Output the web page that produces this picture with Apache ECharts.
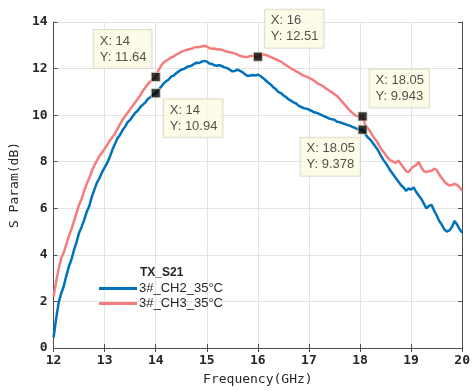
<!DOCTYPE html>
<html>
<head>
<meta charset="utf-8">
<style>
  html, body { margin: 0; padding: 0; background: #ffffff; }
  #chart { width: 473px; height: 391px; }
</style>
<script src="https://cdn.jsdelivr.net/npm/echarts@6/dist/echarts.min.js"></script>
</head>
<body>
<div id="chart"></div>
<script>
// Frequency sweep (GHz)
const freqGHz = [
  12.00, 12.05, 12.10, 12.15, 12.20, 12.25, 12.30, 12.35, 12.40, 12.45,
  12.50, 12.55, 12.60, 12.65, 12.70, 12.75, 12.80, 12.85, 12.90, 12.95,
  13.00, 13.05, 13.10, 13.15, 13.20, 13.25, 13.30, 13.35, 13.40, 13.45,
  13.50, 13.55, 13.60, 13.65, 13.70, 13.75, 13.80, 13.85, 13.90, 13.95,
  14.00, 14.05, 14.10, 14.15, 14.20, 14.25, 14.30, 14.35, 14.40, 14.45,
  14.50, 14.55, 14.60, 14.65, 14.70, 14.75, 14.80, 14.85, 14.90, 14.95,
  15.00, 15.05, 15.10, 15.15, 15.20, 15.25, 15.30, 15.35, 15.40, 15.45,
  15.50, 15.55, 15.60, 15.65, 15.70, 15.75, 15.80, 15.85, 15.90, 15.95,
  16.00, 16.05, 16.10, 16.15, 16.20, 16.25, 16.30, 16.35, 16.40, 16.45,
  16.50, 16.55, 16.60, 16.65, 16.70, 16.75, 16.80, 16.85, 16.90, 16.95,
  17.00, 17.05, 17.10, 17.15, 17.20, 17.25, 17.30, 17.35, 17.40, 17.45,
  17.50, 17.55, 17.60, 17.65, 17.70, 17.75, 17.80, 17.85, 17.90, 17.95,
  18.00, 18.05, 18.10, 18.15, 18.20, 18.25, 18.30, 18.35, 18.40, 18.45,
  18.50, 18.55, 18.60, 18.65, 18.70, 18.75, 18.80, 18.85, 18.90, 18.95,
  19.00, 19.05, 19.10, 19.15, 19.20, 19.25, 19.30, 19.35, 19.40, 19.45,
  19.50, 19.55, 19.60, 19.65, 19.70, 19.75, 19.80, 19.85, 19.90, 19.95,
  20.00
];

// S21 of channel 2 (dB)
const ch2 = [
  0.45, 1.25, 1.95, 2.35, 2.65, 3.10, 3.50, 3.80, 4.20, 4.55,
  4.95, 5.20, 5.50, 5.85, 6.10, 6.50, 6.80, 7.10, 7.30, 7.55,
  7.75, 7.95, 8.20, 8.50, 8.75, 9.00, 9.15, 9.35, 9.50, 9.70,
  9.80, 9.95, 10.10, 10.20, 10.35, 10.45, 10.55, 10.70, 10.78, 10.88,
  10.94, 11.08, 11.20, 11.35, 11.45, 11.52, 11.65, 11.70, 11.80, 11.88,
  11.95, 11.98, 12.05, 12.10, 12.12, 12.20, 12.25, 12.24, 12.30, 12.33,
  12.30, 12.22, 12.20, 12.14, 12.12, 12.15, 12.10, 12.05, 12.02, 11.95,
  11.88, 11.90, 11.95, 11.90, 11.85, 11.75, 11.68, 11.70, 11.72, 11.70,
  11.74, 11.68, 11.60, 11.50, 11.40, 11.32, 11.20, 11.12, 11.00, 10.95,
  10.85, 10.78, 10.68, 10.62, 10.55, 10.50, 10.40, 10.35, 10.30, 10.28,
  10.24, 10.18, 10.12, 10.10, 10.05, 10.00, 9.95, 9.90, 9.85, 9.82,
  9.80, 9.72, 9.70, 9.66, 9.62, 9.58, 9.55, 9.50, 9.45, 9.40,
  9.38, 9.378, 9.20, 9.05, 8.95, 8.80, 8.65, 8.50, 8.30, 8.10,
  7.95, 7.78, 7.60, 7.45, 7.30, 7.15, 7.00, 6.90, 6.75, 6.85,
  6.80, 6.90, 6.70, 6.55, 6.40, 6.20, 6.00, 6.10, 6.15, 5.90,
  5.70, 5.45, 5.30, 5.10, 5.00, 5.05, 5.20, 5.45, 5.30, 5.10,
  4.95
];

// S21 of channel 3 (dB)
const ch3 = [
  2.20, 2.85, 3.40, 3.85, 4.10, 4.45, 4.80, 5.10, 5.45, 5.80,
  6.15, 6.40, 6.75, 7.05, 7.30, 7.60, 7.85, 8.05, 8.25, 8.40,
  8.55, 8.72, 8.90, 9.05, 9.20, 9.40, 9.60, 9.80, 9.95, 10.10,
  10.25, 10.40, 10.55, 10.70, 10.85, 11.05, 11.20, 11.35, 11.45, 11.55,
  11.64, 11.90, 12.10, 12.25, 12.33, 12.40, 12.48, 12.52, 12.60, 12.65,
  12.72, 12.76, 12.80, 12.83, 12.85, 12.90, 12.93, 12.92, 12.95, 12.98,
  12.95, 12.88, 12.85, 12.86, 12.82, 12.83, 12.80, 12.76, 12.72, 12.70,
  12.68, 12.64, 12.60, 12.55, 12.52, 12.50, 12.50, 12.54, 12.55, 12.50,
  12.51, 12.55, 12.60, 12.58, 12.55, 12.50, 12.45, 12.40, 12.35, 12.30,
  12.22, 12.15, 12.08, 12.00, 11.95, 11.88, 11.82, 11.75, 11.70, 11.65,
  11.60, 11.55, 11.48, 11.40, 11.32, 11.28, 11.20, 11.12, 11.05, 10.98,
  10.90, 10.82, 10.70, 10.58, 10.45, 10.32, 10.20, 10.10, 10.00, 9.96,
  9.95, 9.943, 9.60, 9.45, 9.30, 9.10, 8.95, 8.80, 8.60, 8.45,
  8.30, 8.15, 8.05, 8.00, 7.95, 8.05, 7.90, 7.75, 7.60, 7.55,
  7.70, 7.80, 7.85, 8.00, 7.75, 7.60, 7.55, 7.60, 7.60, 7.70,
  7.65, 7.45, 7.30, 7.15, 7.05, 6.98, 7.00, 7.05, 7.00, 6.90,
  6.75
];

const seriesNames = ['3#_CH2_35°C', '3#_CH3_35°C'];
const legendTitle = 'TX_S21';

// Data tips: frequency, value
const tipFreq = [14, 14, 16, 18.05, 18.05];
const tipVal = [11.64, 10.94, 12.51, 9.943, 9.378];
// Where each tip box sits relative to its marker (top-left corner offset, px)
const tipOffset = [[-62, -47], [8, 6], [7, -47], [7, -47], [-62, 8]];

const xTicks = { min: 12, max: 20, interval: 1 };
const yTicks = { min: 0, max: 14, interval: 2 };

const monoFont = '"DejaVu Sans Mono", monospace';
const sansFont = '"Liberation Sans", Arial, sans-serif';
const axisColor = '#4d4d4d';

const chart = echarts.init(document.getElementById('chart'), null, { renderer: 'canvas' });

const pairs = (ys) => freqGHz.map((f, i) => [f, ys[i]]);

const tipData = tipFreq.map((f, i) => ({
  value: [f, tipVal[i]],
  label: { offset: tipOffset[i] }
}));

const boxAxis = {
  axisLine: { show: true, lineStyle: { color: axisColor, width: 1 } },
  axisTick: { show: true, inside: true, length: 4, lineStyle: { color: axisColor } },
  axisLabel: { show: false },
  splitLine: { show: false }
};

chart.setOption({
  animation: false,
  backgroundColor: '#ffffff',
  grid: { left: 50, right: 7, top: 22, bottom: 41, containLabel: false },
  xAxis: [
    {
      type: 'value', min: xTicks.min, max: xTicks.max, interval: xTicks.interval,
      position: 'bottom',
      name: 'Frequency(GHz)', nameLocation: 'middle', nameGap: 25,
      nameTextStyle: { fontFamily: monoFont, fontSize: 13, color: '#262626' },
      axisLine: { show: true, lineStyle: { color: axisColor, width: 1 } },
      axisTick: { show: true, inside: true, length: 4, lineStyle: { color: axisColor } },
      axisLabel: { fontFamily: monoFont, fontWeight: 'bold', fontSize: 13, color: '#262626', margin: 6 },
      splitLine: { show: true, lineStyle: { color: '#e3e3e3', width: 1 } }
    },
    Object.assign({ type: 'value', min: xTicks.min, max: xTicks.max, interval: xTicks.interval, position: 'top' }, boxAxis)
  ],
  yAxis: [
    {
      type: 'value', min: yTicks.min, max: yTicks.max, interval: yTicks.interval,
      position: 'left',
      name: 'S Param(dB)', nameLocation: 'middle', nameGap: 23,
      nameTextStyle: { fontFamily: monoFont, fontSize: 13, color: '#262626' },
      axisLine: { show: true, lineStyle: { color: axisColor, width: 1 } },
      axisTick: { show: true, inside: true, length: 4, lineStyle: { color: axisColor } },
      axisLabel: { fontFamily: monoFont, fontWeight: 'bold', fontSize: 13, color: '#262626', margin: 6 },
      splitLine: { show: true, lineStyle: { color: '#e3e3e3', width: 1 } }
    },
    Object.assign({ type: 'value', min: yTicks.min, max: yTicks.max, interval: yTicks.interval, position: 'right' }, boxAxis)
  ],
  title: {
    text: legendTitle,
    left: 135, top: 262,
    textStyle: { fontFamily: sansFont, fontSize: 12, fontWeight: 'bold', color: '#262626' }
  },
  legend: {
    data: seriesNames,
    orient: 'vertical',
    left: 99, top: 281,
    padding: 0,
    itemGap: 0,
    itemWidth: 38, itemHeight: 3,
    icon: 'rect',
    textStyle: { fontFamily: sansFont, fontSize: 13, color: '#262626', padding: [0, 0, 0, -3], lineHeight: 15 }
  },
  series: [
    {
      name: seriesNames[0], type: 'line', data: pairs(ch2),
      showSymbol: false, symbol: 'none',
      lineStyle: { color: '#0072BD', width: 2.5 },
      itemStyle: { color: '#0072BD' },
      z: 3
    },
    {
      name: seriesNames[1], type: 'line', data: pairs(ch3),
      showSymbol: false, symbol: 'none',
      lineStyle: { color: '#F47C7C', width: 2.5 },
      itemStyle: { color: '#F47C7C' },
      z: 2
    },
    {
      name: 'tips', type: 'scatter', data: tipData,
      symbol: 'rect', symbolSize: 9,
      itemStyle: { color: '#000000', borderColor: '#d8d8c0', borderWidth: 1 },
      z: 5,
      label: {
        show: true,
        position: 'inside',
        align: 'left',
        verticalAlign: 'top',
        formatter: (p) => 'X: ' + p.value[0] + '\nY: ' + p.value[1],
        fontFamily: sansFont, fontSize: 13, lineHeight: 16, color: '#262626',
        backgroundColor: '#fbfbe2',
        borderColor: '#d6d6c4', borderWidth: 1,
        padding: [3, 5, 3, 6]
      }
    }
  ]
});
</script>
</body>
</html>
